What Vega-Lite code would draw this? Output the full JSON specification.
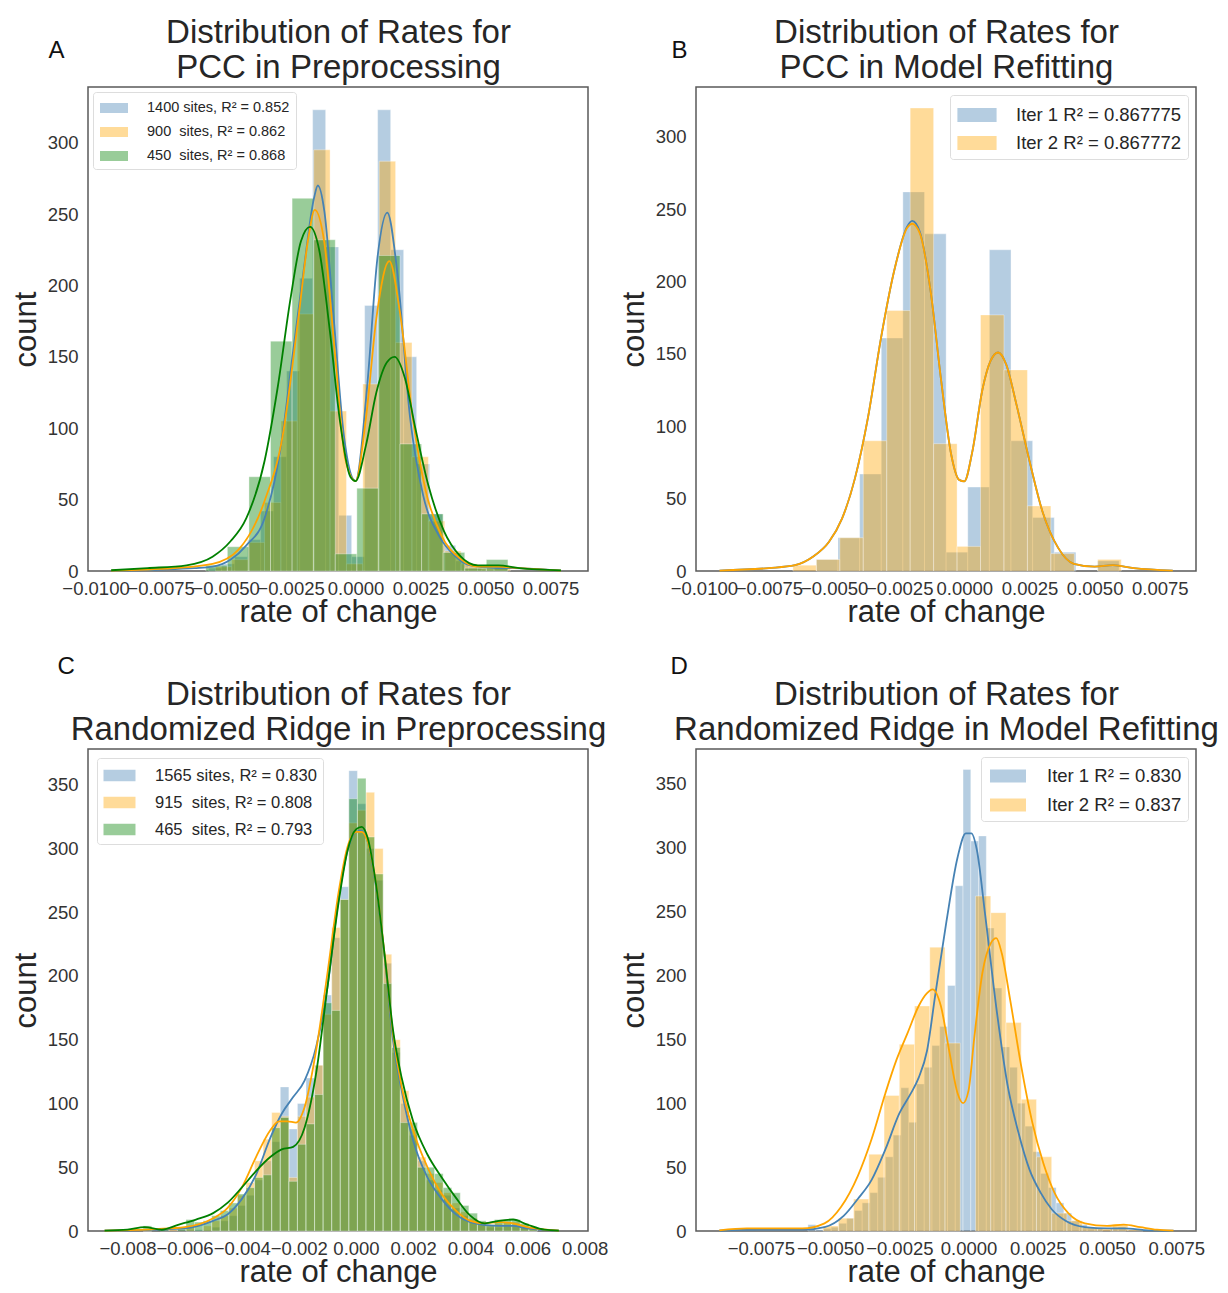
{
 "$schema": "https://vega.github.io/schema/vega-lite/v6.json",
 "background": "white",
 "padding": {"left": 9, "top": 15, "right": 2, "bottom": 2},
 "config": {
  "font": "Liberation Sans",
  "view": {"stroke": "#5a5a5a", "strokeWidth": 1.5},
  "axis": {"grid": false, "ticks": false, "domain": false, "labelFont": "Liberation Sans", "labelFontSize": 18.5, "labelColor": "#333333", "titleFont": "Liberation Sans", "titleFontSize": 31, "titleFontWeight": "normal", "titleColor": "#262626", "labelPadding": 8, "labelOverlap": false, "labelFlush": false, "labelBound": false},
  "legend": {"title": null, "labelFont": "Liberation Sans", "labelColor": "#262626", "labelLimit": 0, "symbolType": "M-1.4,-0.5H1.4V0.5H-1.4Z", "symbolStrokeWidth": 0, "symbolOpacity": 0.4, "strokeColor": "#dddddd", "fillColor": "white", "cornerRadius": 3, "padding": 6}
 },
 "datasets": {
  "hA": [
   {"series": "1400 sites, R² = 0.852", "x0": -0.00565, "x1": -0.00515, "count": 2},
   {"series": "1400 sites, R² = 0.852", "x0": -0.00515, "x1": -0.00465, "count": 5},
   {"series": "1400 sites, R² = 0.852", "x0": -0.00465, "x1": -0.00415, "count": 10},
   {"series": "1400 sites, R² = 0.852", "x0": -0.00415, "x1": -0.00365, "count": 22},
   {"series": "1400 sites, R² = 0.852", "x0": -0.00365, "x1": -0.00315, "count": 42},
   {"series": "1400 sites, R² = 0.852", "x0": -0.00315, "x1": -0.00265, "count": 80},
   {"series": "1400 sites, R² = 0.852", "x0": -0.00265, "x1": -0.00215, "count": 140},
   {"series": "1400 sites, R² = 0.852", "x0": -0.00215, "x1": -0.00165, "count": 205},
   {"series": "1400 sites, R² = 0.852", "x0": -0.00165, "x1": -0.00115, "count": 323},
   {"series": "1400 sites, R² = 0.852", "x0": -0.00115, "x1": -0.00065, "count": 227},
   {"series": "1400 sites, R² = 0.852", "x0": -0.00065, "x1": -0.00015, "count": 39},
   {"series": "1400 sites, R² = 0.852", "x0": -0.00015, "x1": 0.00035, "count": 10},
   {"series": "1400 sites, R² = 0.852", "x0": 0.00035, "x1": 0.00085, "count": 186},
   {"series": "1400 sites, R² = 0.852", "x0": 0.00085, "x1": 0.00135, "count": 323},
   {"series": "1400 sites, R² = 0.852", "x0": 0.00135, "x1": 0.00185, "count": 225},
   {"series": "1400 sites, R² = 0.852", "x0": 0.00185, "x1": 0.00235, "count": 150},
   {"series": "1400 sites, R² = 0.852", "x0": 0.00235, "x1": 0.00285, "count": 75},
   {"series": "1400 sites, R² = 0.852", "x0": 0.00285, "x1": 0.00335, "count": 40},
   {"series": "1400 sites, R² = 0.852", "x0": 0.00335, "x1": 0.00385, "count": 18},
   {"series": "1400 sites, R² = 0.852", "x0": 0.00385, "x1": 0.00435, "count": 7},
   {"series": "1400 sites, R² = 0.852", "x0": 0.00435, "x1": 0.00485, "count": 3},
   {"series": "1400 sites, R² = 0.852", "x0": 0.00485, "x1": 0.00535, "count": 1},
   {"series": "1400 sites, R² = 0.852", "x0": 0.00535, "x1": 0.00585, "count": 3},
   {"series": "900\u00a0 sites, R² = 0.862", "x0": -0.00539, "x1": -0.00476, "count": 3},
   {"series": "900\u00a0 sites, R² = 0.862", "x0": -0.00476, "x1": -0.00413, "count": 8},
   {"series": "900\u00a0 sites, R² = 0.862", "x0": -0.00413, "x1": -0.0035, "count": 20},
   {"series": "900\u00a0 sites, R² = 0.862", "x0": -0.0035, "x1": -0.00287, "count": 48},
   {"series": "900\u00a0 sites, R² = 0.862", "x0": -0.00287, "x1": -0.00224, "count": 105},
   {"series": "900\u00a0 sites, R² = 0.862", "x0": -0.00224, "x1": -0.00161, "count": 180},
   {"series": "900\u00a0 sites, R² = 0.862", "x0": -0.00161, "x1": -0.00098, "count": 295},
   {"series": "900\u00a0 sites, R² = 0.862", "x0": -0.00098, "x1": -0.00035, "count": 112},
   {"series": "900\u00a0 sites, R² = 0.862", "x0": -0.00035, "x1": 0.00028, "count": 5},
   {"series": "900\u00a0 sites, R² = 0.862", "x0": 0.00028, "x1": 0.00091, "count": 131},
   {"series": "900\u00a0 sites, R² = 0.862", "x0": 0.00091, "x1": 0.00154, "count": 287},
   {"series": "900\u00a0 sites, R² = 0.862", "x0": 0.00154, "x1": 0.00217, "count": 160},
   {"series": "900\u00a0 sites, R² = 0.862", "x0": 0.00217, "x1": 0.0028, "count": 80},
   {"series": "900\u00a0 sites, R² = 0.862", "x0": 0.0028, "x1": 0.00343, "count": 35},
   {"series": "900\u00a0 sites, R² = 0.862", "x0": 0.00343, "x1": 0.00406, "count": 14},
   {"series": "900\u00a0 sites, R² = 0.862", "x0": 0.00406, "x1": 0.00469, "count": 5},
   {"series": "900\u00a0 sites, R² = 0.862", "x0": 0.00469, "x1": 0.00532, "count": 2},
   {"series": "900\u00a0 sites, R² = 0.862", "x0": 0.00532, "x1": 0.00595, "count": 3},
   {"series": "450\u00a0 sites, R² = 0.868", "x0": -0.00576, "x1": -0.00493, "count": 4},
   {"series": "450\u00a0 sites, R² = 0.868", "x0": -0.00493, "x1": -0.0041, "count": 17},
   {"series": "450\u00a0 sites, R² = 0.868", "x0": -0.0041, "x1": -0.00327, "count": 66},
   {"series": "450\u00a0 sites, R² = 0.868", "x0": -0.00327, "x1": -0.00244, "count": 161},
   {"series": "450\u00a0 sites, R² = 0.868", "x0": -0.00244, "x1": -0.00161, "count": 261},
   {"series": "450\u00a0 sites, R² = 0.868", "x0": -0.00161, "x1": -0.00078, "count": 232},
   {"series": "450\u00a0 sites, R² = 0.868", "x0": -0.00078, "x1": 0.00005, "count": 12},
   {"series": "450\u00a0 sites, R² = 0.868", "x0": 0.00005, "x1": 0.00088, "count": 58},
   {"series": "450\u00a0 sites, R² = 0.868", "x0": 0.00088, "x1": 0.00171, "count": 221},
   {"series": "450\u00a0 sites, R² = 0.868", "x0": 0.00171, "x1": 0.00254, "count": 89},
   {"series": "450\u00a0 sites, R² = 0.868", "x0": 0.00254, "x1": 0.00337, "count": 40},
   {"series": "450\u00a0 sites, R² = 0.868", "x0": 0.00337, "x1": 0.0042, "count": 13},
   {"series": "450\u00a0 sites, R² = 0.868", "x0": 0.0042, "x1": 0.00503, "count": 2},
   {"series": "450\u00a0 sites, R² = 0.868", "x0": 0.00503, "x1": 0.00586, "count": 8}
  ],
  "kA": [
   {"series": "1400 sites, R² = 0.852", "x": -0.0094, "count": 0.2},
   {"series": "1400 sites, R² = 0.852", "x": -0.0075, "count": 1},
   {"series": "1400 sites, R² = 0.852", "x": -0.0062, "count": 2},
   {"series": "1400 sites, R² = 0.852", "x": -0.0055, "count": 3},
   {"series": "1400 sites, R² = 0.852", "x": -0.0048, "count": 8},
   {"series": "1400 sites, R² = 0.852", "x": -0.0042, "count": 18},
   {"series": "1400 sites, R² = 0.852", "x": -0.0035, "count": 37},
   {"series": "1400 sites, R² = 0.852", "x": -0.0029, "count": 84},
   {"series": "1400 sites, R² = 0.852", "x": -0.0024, "count": 154},
   {"series": "1400 sites, R² = 0.852", "x": -0.002, "count": 210},
   {"series": "1400 sites, R² = 0.852", "x": -0.0016, "count": 261},
   {"series": "1400 sites, R² = 0.852", "x": -0.00145, "count": 270},
   {"series": "1400 sites, R² = 0.852", "x": -0.0012, "count": 252},
   {"series": "1400 sites, R² = 0.852", "x": -0.00084, "count": 177},
   {"series": "1400 sites, R² = 0.852", "x": -0.00045, "count": 95},
   {"series": "1400 sites, R² = 0.852", "x": 0, "count": 63},
   {"series": "1400 sites, R² = 0.852", "x": 0.00045, "count": 130},
   {"series": "1400 sites, R² = 0.852", "x": 0.00084, "count": 219},
   {"series": "1400 sites, R² = 0.852", "x": 0.00122, "count": 251},
   {"series": "1400 sites, R² = 0.852", "x": 0.0016, "count": 210},
   {"series": "1400 sites, R² = 0.852", "x": 0.0021, "count": 107},
   {"series": "1400 sites, R² = 0.852", "x": 0.0026, "count": 53},
   {"series": "1400 sites, R² = 0.852", "x": 0.0032, "count": 25},
   {"series": "1400 sites, R² = 0.852", "x": 0.0038, "count": 11},
   {"series": "1400 sites, R² = 0.852", "x": 0.0044, "count": 4},
   {"series": "1400 sites, R² = 0.852", "x": 0.0055, "count": 2},
   {"series": "1400 sites, R² = 0.852", "x": 0.0061, "count": 2},
   {"series": "1400 sites, R² = 0.852", "x": 0.0079, "count": 0.2},
   {"series": "900\u00a0 sites, R² = 0.862", "x": -0.0094, "count": 0.3},
   {"series": "900\u00a0 sites, R² = 0.862", "x": -0.007, "count": 2},
   {"series": "900\u00a0 sites, R² = 0.862", "x": -0.0055, "count": 5},
   {"series": "900\u00a0 sites, R² = 0.862", "x": -0.0045, "count": 15},
   {"series": "900\u00a0 sites, R² = 0.862", "x": -0.0035, "count": 49},
   {"series": "900\u00a0 sites, R² = 0.862", "x": -0.0028, "count": 95},
   {"series": "900\u00a0 sites, R² = 0.862", "x": -0.0022, "count": 177},
   {"series": "900\u00a0 sites, R² = 0.862", "x": -0.0018, "count": 235},
   {"series": "900\u00a0 sites, R² = 0.862", "x": -0.00157, "count": 253},
   {"series": "900\u00a0 sites, R² = 0.862", "x": -0.0012, "count": 230},
   {"series": "900\u00a0 sites, R² = 0.862", "x": -0.0008, "count": 154},
   {"series": "900\u00a0 sites, R² = 0.862", "x": -0.0004, "count": 79},
   {"series": "900\u00a0 sites, R² = 0.862", "x": 0, "count": 63},
   {"series": "900\u00a0 sites, R² = 0.862", "x": 0.0004, "count": 107},
   {"series": "900\u00a0 sites, R² = 0.862", "x": 0.0008, "count": 177},
   {"series": "900\u00a0 sites, R² = 0.862", "x": 0.0013, "count": 217},
   {"series": "900\u00a0 sites, R² = 0.862", "x": 0.0017, "count": 182},
   {"series": "900\u00a0 sites, R² = 0.862", "x": 0.0022, "count": 107},
   {"series": "900\u00a0 sites, R² = 0.862", "x": 0.0027, "count": 56},
   {"series": "900\u00a0 sites, R² = 0.862", "x": 0.0033, "count": 25},
   {"series": "900\u00a0 sites, R² = 0.862", "x": 0.004, "count": 9},
   {"series": "900\u00a0 sites, R² = 0.862", "x": 0.0047, "count": 3},
   {"series": "900\u00a0 sites, R² = 0.862", "x": 0.0055, "count": 3},
   {"series": "900\u00a0 sites, R² = 0.862", "x": 0.0063, "count": 2},
   {"series": "900\u00a0 sites, R² = 0.862", "x": 0.0079, "count": 0.3},
   {"series": "450\u00a0 sites, R² = 0.868", "x": -0.0094, "count": 0.5},
   {"series": "450\u00a0 sites, R² = 0.868", "x": -0.008, "count": 2},
   {"series": "450\u00a0 sites, R² = 0.868", "x": -0.0065, "count": 4},
   {"series": "450\u00a0 sites, R² = 0.868", "x": -0.0055, "count": 10},
   {"series": "450\u00a0 sites, R² = 0.868", "x": -0.0048, "count": 21},
   {"series": "450\u00a0 sites, R² = 0.868", "x": -0.0042, "count": 37},
   {"series": "450\u00a0 sites, R² = 0.868", "x": -0.0035, "count": 77},
   {"series": "450\u00a0 sites, R² = 0.868", "x": -0.003, "count": 128},
   {"series": "450\u00a0 sites, R² = 0.868", "x": -0.0025, "count": 191},
   {"series": "450\u00a0 sites, R² = 0.868", "x": -0.0021, "count": 231},
   {"series": "450\u00a0 sites, R² = 0.868", "x": -0.00175, "count": 241},
   {"series": "450\u00a0 sites, R² = 0.868", "x": -0.0014, "count": 225},
   {"series": "450\u00a0 sites, R² = 0.868", "x": -0.001, "count": 170},
   {"series": "450\u00a0 sites, R² = 0.868", "x": -0.0006, "count": 105},
   {"series": "450\u00a0 sites, R² = 0.868", "x": -0.0002, "count": 66},
   {"series": "450\u00a0 sites, R² = 0.868", "x": 0, "count": 63},
   {"series": "450\u00a0 sites, R² = 0.868", "x": 0.0004, "count": 88},
   {"series": "450\u00a0 sites, R² = 0.868", "x": 0.0008, "count": 125},
   {"series": "450\u00a0 sites, R² = 0.868", "x": 0.0012, "count": 146},
   {"series": "450\u00a0 sites, R² = 0.868", "x": 0.0015, "count": 150},
   {"series": "450\u00a0 sites, R² = 0.868", "x": 0.0019, "count": 135},
   {"series": "450\u00a0 sites, R² = 0.868", "x": 0.0023, "count": 100},
   {"series": "450\u00a0 sites, R² = 0.868", "x": 0.0028, "count": 60},
   {"series": "450\u00a0 sites, R² = 0.868", "x": 0.0034, "count": 28},
   {"series": "450\u00a0 sites, R² = 0.868", "x": 0.004, "count": 11},
   {"series": "450\u00a0 sites, R² = 0.868", "x": 0.0047, "count": 4},
   {"series": "450\u00a0 sites, R² = 0.868", "x": 0.0055, "count": 4},
   {"series": "450\u00a0 sites, R² = 0.868", "x": 0.0063, "count": 2},
   {"series": "450\u00a0 sites, R² = 0.868", "x": 0.0079, "count": 0.5}
  ],
  "hB": [
   {"series": "Iter 1 R² = 0.867775", "x0": -0.00568, "x1": -0.00485, "count": 8},
   {"series": "Iter 1 R² = 0.867775", "x0": -0.00485, "x1": -0.00402, "count": 23},
   {"series": "Iter 1 R² = 0.867775", "x0": -0.00402, "x1": -0.00319, "count": 67},
   {"series": "Iter 1 R² = 0.867775", "x0": -0.00319, "x1": -0.00236, "count": 161},
   {"series": "Iter 1 R² = 0.867775", "x0": -0.00236, "x1": -0.00153, "count": 262},
   {"series": "Iter 1 R² = 0.867775", "x0": -0.00153, "x1": -0.0007, "count": 233},
   {"series": "Iter 1 R² = 0.867775", "x0": -0.0007, "x1": 0.00013, "count": 13},
   {"series": "Iter 1 R² = 0.867775", "x0": 0.00013, "x1": 0.00096, "count": 58},
   {"series": "Iter 1 R² = 0.867775", "x0": 0.00096, "x1": 0.00179, "count": 222},
   {"series": "Iter 1 R² = 0.867775", "x0": 0.00179, "x1": 0.00262, "count": 90},
   {"series": "Iter 1 R² = 0.867775", "x0": 0.00262, "x1": 0.00345, "count": 37},
   {"series": "Iter 1 R² = 0.867775", "x0": 0.00345, "x1": 0.00428, "count": 13},
   {"series": "Iter 1 R² = 0.867775", "x0": 0.00511, "x1": 0.00594, "count": 7},
   {"series": "Iter 2 R² = 0.867772", "x0": -0.00658, "x1": -0.00568, "count": 4},
   {"series": "Iter 2 R² = 0.867772", "x0": -0.00568, "x1": -0.00478, "count": 8},
   {"series": "Iter 2 R² = 0.867772", "x0": -0.00478, "x1": -0.00388, "count": 23},
   {"series": "Iter 2 R² = 0.867772", "x0": -0.00388, "x1": -0.00298, "count": 90},
   {"series": "Iter 2 R² = 0.867772", "x0": -0.00298, "x1": -0.00208, "count": 180},
   {"series": "Iter 2 R² = 0.867772", "x0": -0.00208, "x1": -0.00118, "count": 320},
   {"series": "Iter 2 R² = 0.867772", "x0": -0.00118, "x1": -0.00028, "count": 88},
   {"series": "Iter 2 R² = 0.867772", "x0": -0.00028, "x1": 0.00062, "count": 17},
   {"series": "Iter 2 R² = 0.867772", "x0": 0.00062, "x1": 0.00152, "count": 177},
   {"series": "Iter 2 R² = 0.867772", "x0": 0.00152, "x1": 0.00242, "count": 139},
   {"series": "Iter 2 R² = 0.867772", "x0": 0.00242, "x1": 0.00332, "count": 45},
   {"series": "Iter 2 R² = 0.867772", "x0": 0.00332, "x1": 0.00422, "count": 12},
   {"series": "Iter 2 R² = 0.867772", "x0": 0.00512, "x1": 0.00602, "count": 8}
  ],
  "kB": [
   {"series": "Iter 1 R² = 0.867775", "x": -0.0094, "count": 0.3},
   {"series": "Iter 1 R² = 0.867775", "x": -0.0075, "count": 2},
   {"series": "Iter 1 R² = 0.867775", "x": -0.0065, "count": 4},
   {"series": "Iter 1 R² = 0.867775", "x": -0.0058, "count": 10},
   {"series": "Iter 1 R² = 0.867775", "x": -0.0052, "count": 20},
   {"series": "Iter 1 R² = 0.867775", "x": -0.0047, "count": 36},
   {"series": "Iter 1 R² = 0.867775", "x": -0.0042, "count": 64},
   {"series": "Iter 1 R² = 0.867775", "x": -0.0037, "count": 106},
   {"series": "Iter 1 R² = 0.867775", "x": -0.0032, "count": 161},
   {"series": "Iter 1 R² = 0.867775", "x": -0.0027, "count": 207},
   {"series": "Iter 1 R² = 0.867775", "x": -0.0022, "count": 238},
   {"series": "Iter 1 R² = 0.867775", "x": -0.002, "count": 242},
   {"series": "Iter 1 R² = 0.867775", "x": -0.0017, "count": 234},
   {"series": "Iter 1 R² = 0.867775", "x": -0.0013, "count": 194},
   {"series": "Iter 1 R² = 0.867775", "x": -0.0009, "count": 133},
   {"series": "Iter 1 R² = 0.867775", "x": -0.0005, "count": 80},
   {"series": "Iter 1 R² = 0.867775", "x": -0.0002, "count": 63},
   {"series": "Iter 1 R² = 0.867775", "x": 0, "count": 62},
   {"series": "Iter 1 R² = 0.867775", "x": 0.0003, "count": 82},
   {"series": "Iter 1 R² = 0.867775", "x": 0.0007, "count": 126},
   {"series": "Iter 1 R² = 0.867775", "x": 0.001, "count": 145},
   {"series": "Iter 1 R² = 0.867775", "x": 0.0013, "count": 151},
   {"series": "Iter 1 R² = 0.867775", "x": 0.0016, "count": 143},
   {"series": "Iter 1 R² = 0.867775", "x": 0.002, "count": 115},
   {"series": "Iter 1 R² = 0.867775", "x": 0.0025, "count": 76},
   {"series": "Iter 1 R² = 0.867775", "x": 0.003, "count": 41},
   {"series": "Iter 1 R² = 0.867775", "x": 0.0036, "count": 16},
   {"series": "Iter 1 R² = 0.867775", "x": 0.0042, "count": 5},
   {"series": "Iter 1 R² = 0.867775", "x": 0.005, "count": 3},
   {"series": "Iter 1 R² = 0.867775", "x": 0.0057, "count": 4},
   {"series": "Iter 1 R² = 0.867775", "x": 0.0065, "count": 2},
   {"series": "Iter 1 R² = 0.867775", "x": 0.008, "count": 0.3},
   {"series": "Iter 2 R² = 0.867772", "x": -0.0094, "count": 0.3},
   {"series": "Iter 2 R² = 0.867772", "x": -0.0075, "count": 2},
   {"series": "Iter 2 R² = 0.867772", "x": -0.0065, "count": 4},
   {"series": "Iter 2 R² = 0.867772", "x": -0.0058, "count": 10},
   {"series": "Iter 2 R² = 0.867772", "x": -0.0052, "count": 20},
   {"series": "Iter 2 R² = 0.867772", "x": -0.0047, "count": 36},
   {"series": "Iter 2 R² = 0.867772", "x": -0.0042, "count": 64},
   {"series": "Iter 2 R² = 0.867772", "x": -0.0037, "count": 106},
   {"series": "Iter 2 R² = 0.867772", "x": -0.0032, "count": 161},
   {"series": "Iter 2 R² = 0.867772", "x": -0.0027, "count": 207},
   {"series": "Iter 2 R² = 0.867772", "x": -0.0022, "count": 237},
   {"series": "Iter 2 R² = 0.867772", "x": -0.002, "count": 240},
   {"series": "Iter 2 R² = 0.867772", "x": -0.0017, "count": 233},
   {"series": "Iter 2 R² = 0.867772", "x": -0.0013, "count": 194},
   {"series": "Iter 2 R² = 0.867772", "x": -0.0009, "count": 133},
   {"series": "Iter 2 R² = 0.867772", "x": -0.0005, "count": 80},
   {"series": "Iter 2 R² = 0.867772", "x": -0.0002, "count": 63},
   {"series": "Iter 2 R² = 0.867772", "x": 0, "count": 62},
   {"series": "Iter 2 R² = 0.867772", "x": 0.0003, "count": 82},
   {"series": "Iter 2 R² = 0.867772", "x": 0.0007, "count": 126},
   {"series": "Iter 2 R² = 0.867772", "x": 0.001, "count": 145},
   {"series": "Iter 2 R² = 0.867772", "x": 0.0013, "count": 151},
   {"series": "Iter 2 R² = 0.867772", "x": 0.0016, "count": 143},
   {"series": "Iter 2 R² = 0.867772", "x": 0.002, "count": 115},
   {"series": "Iter 2 R² = 0.867772", "x": 0.0025, "count": 76},
   {"series": "Iter 2 R² = 0.867772", "x": 0.003, "count": 41},
   {"series": "Iter 2 R² = 0.867772", "x": 0.0036, "count": 16},
   {"series": "Iter 2 R² = 0.867772", "x": 0.0042, "count": 5},
   {"series": "Iter 2 R² = 0.867772", "x": 0.005, "count": 3},
   {"series": "Iter 2 R² = 0.867772", "x": 0.0057, "count": 4},
   {"series": "Iter 2 R² = 0.867772", "x": 0.0065, "count": 2},
   {"series": "Iter 2 R² = 0.867772", "x": 0.008, "count": 0.3}
  ],
  "hC": [
   {"series": "1565 sites, R² = 0.830", "x0": -0.00565, "x1": -0.00535, "count": 1},
   {"series": "1565 sites, R² = 0.830", "x0": -0.00505, "x1": -0.00475, "count": 3},
   {"series": "1565 sites, R² = 0.830", "x0": -0.00475, "x1": -0.00445, "count": 8},
   {"series": "1565 sites, R² = 0.830", "x0": -0.00445, "x1": -0.00415, "count": 12},
   {"series": "1565 sites, R² = 0.830", "x0": -0.00415, "x1": -0.00385, "count": 20},
   {"series": "1565 sites, R² = 0.830", "x0": -0.00385, "x1": -0.00355, "count": 28},
   {"series": "1565 sites, R² = 0.830", "x0": -0.00355, "x1": -0.00325, "count": 40},
   {"series": "1565 sites, R² = 0.830", "x0": -0.00325, "x1": -0.00295, "count": 55},
   {"series": "1565 sites, R² = 0.830", "x0": -0.00295, "x1": -0.00265, "count": 70},
   {"series": "1565 sites, R² = 0.830", "x0": -0.00265, "x1": -0.00235, "count": 113},
   {"series": "1565 sites, R² = 0.830", "x0": -0.00235, "x1": -0.00205, "count": 80},
   {"series": "1565 sites, R² = 0.830", "x0": -0.00205, "x1": -0.00175, "count": 100},
   {"series": "1565 sites, R² = 0.830", "x0": -0.00175, "x1": -0.00145, "count": 120},
   {"series": "1565 sites, R² = 0.830", "x0": -0.00145, "x1": -0.00115, "count": 130},
   {"series": "1565 sites, R² = 0.830", "x0": -0.00115, "x1": -0.00085, "count": 185},
   {"series": "1565 sites, R² = 0.830", "x0": -0.00085, "x1": -0.00055, "count": 230},
   {"series": "1565 sites, R² = 0.830", "x0": -0.00055, "x1": -0.00025, "count": 270},
   {"series": "1565 sites, R² = 0.830", "x0": -0.00025, "x1": 0.00005, "count": 361},
   {"series": "1565 sites, R² = 0.830", "x0": 0.00005, "x1": 0.00035, "count": 335},
   {"series": "1565 sites, R² = 0.830", "x0": 0.00035, "x1": 0.00065, "count": 300},
   {"series": "1565 sites, R² = 0.830", "x0": 0.00065, "x1": 0.00095, "count": 275},
   {"series": "1565 sites, R² = 0.830", "x0": 0.00095, "x1": 0.00125, "count": 210},
   {"series": "1565 sites, R² = 0.830", "x0": 0.00125, "x1": 0.00155, "count": 140},
   {"series": "1565 sites, R² = 0.830", "x0": 0.00155, "x1": 0.00185, "count": 100},
   {"series": "1565 sites, R² = 0.830", "x0": 0.00185, "x1": 0.00215, "count": 75},
   {"series": "1565 sites, R² = 0.830", "x0": 0.00215, "x1": 0.00245, "count": 55},
   {"series": "1565 sites, R² = 0.830", "x0": 0.00245, "x1": 0.00275, "count": 40},
   {"series": "1565 sites, R² = 0.830", "x0": 0.00275, "x1": 0.00305, "count": 32},
   {"series": "1565 sites, R² = 0.830", "x0": 0.00305, "x1": 0.00335, "count": 28},
   {"series": "1565 sites, R² = 0.830", "x0": 0.00335, "x1": 0.00365, "count": 18},
   {"series": "1565 sites, R² = 0.830", "x0": 0.00365, "x1": 0.00395, "count": 12},
   {"series": "1565 sites, R² = 0.830", "x0": 0.00395, "x1": 0.00425, "count": 8},
   {"series": "1565 sites, R² = 0.830", "x0": 0.00425, "x1": 0.00455, "count": 5},
   {"series": "1565 sites, R² = 0.830", "x0": 0.00455, "x1": 0.00485, "count": 3},
   {"series": "1565 sites, R² = 0.830", "x0": 0.00485, "x1": 0.00515, "count": 3},
   {"series": "1565 sites, R² = 0.830", "x0": 0.00515, "x1": 0.00545, "count": 4},
   {"series": "1565 sites, R² = 0.830", "x0": 0.00545, "x1": 0.00575, "count": 4},
   {"series": "1565 sites, R² = 0.830", "x0": 0.00575, "x1": 0.00605, "count": 3},
   {"series": "1565 sites, R² = 0.830", "x0": 0.00605, "x1": 0.00635, "count": 1},
   {"series": "915\u00a0 sites, R² = 0.808", "x0": -0.00745, "x1": -0.00715, "count": 1},
   {"series": "915\u00a0 sites, R² = 0.808", "x0": -0.00655, "x1": -0.00625, "count": 1},
   {"series": "915\u00a0 sites, R² = 0.808", "x0": -0.00595, "x1": -0.00565, "count": 3},
   {"series": "915\u00a0 sites, R² = 0.808", "x0": -0.00535, "x1": -0.00505, "count": 4},
   {"series": "915\u00a0 sites, R² = 0.808", "x0": -0.00505, "x1": -0.00475, "count": 8},
   {"series": "915\u00a0 sites, R² = 0.808", "x0": -0.00475, "x1": -0.00445, "count": 12},
   {"series": "915\u00a0 sites, R² = 0.808", "x0": -0.00445, "x1": -0.00415, "count": 18},
   {"series": "915\u00a0 sites, R² = 0.808", "x0": -0.00415, "x1": -0.00385, "count": 28},
   {"series": "915\u00a0 sites, R² = 0.808", "x0": -0.00385, "x1": -0.00355, "count": 38},
   {"series": "915\u00a0 sites, R² = 0.808", "x0": -0.00355, "x1": -0.00325, "count": 55},
   {"series": "915\u00a0 sites, R² = 0.808", "x0": -0.00325, "x1": -0.00295, "count": 72},
   {"series": "915\u00a0 sites, R² = 0.808", "x0": -0.00295, "x1": -0.00265, "count": 93},
   {"series": "915\u00a0 sites, R² = 0.808", "x0": -0.00265, "x1": -0.00235, "count": 90},
   {"series": "915\u00a0 sites, R² = 0.808", "x0": -0.00235, "x1": -0.00205, "count": 42},
   {"series": "915\u00a0 sites, R² = 0.808", "x0": -0.00205, "x1": -0.00175, "count": 90},
   {"series": "915\u00a0 sites, R² = 0.808", "x0": -0.00175, "x1": -0.00145, "count": 105},
   {"series": "915\u00a0 sites, R² = 0.808", "x0": -0.00145, "x1": -0.00115, "count": 130},
   {"series": "915\u00a0 sites, R² = 0.808", "x0": -0.00115, "x1": -0.00085, "count": 170},
   {"series": "915\u00a0 sites, R² = 0.808", "x0": -0.00085, "x1": -0.00055, "count": 238},
   {"series": "915\u00a0 sites, R² = 0.808", "x0": -0.00055, "x1": -0.00025, "count": 260},
   {"series": "915\u00a0 sites, R² = 0.808", "x0": -0.00025, "x1": 0.00005, "count": 320},
   {"series": "915\u00a0 sites, R² = 0.808", "x0": 0.00005, "x1": 0.00035, "count": 330},
   {"series": "915\u00a0 sites, R² = 0.808", "x0": 0.00035, "x1": 0.00065, "count": 344},
   {"series": "915\u00a0 sites, R² = 0.808", "x0": 0.00065, "x1": 0.00095, "count": 300},
   {"series": "915\u00a0 sites, R² = 0.808", "x0": 0.00095, "x1": 0.00125, "count": 217},
   {"series": "915\u00a0 sites, R² = 0.808", "x0": 0.00125, "x1": 0.00155, "count": 150},
   {"series": "915\u00a0 sites, R² = 0.808", "x0": 0.00155, "x1": 0.00185, "count": 110},
   {"series": "915\u00a0 sites, R² = 0.808", "x0": 0.00185, "x1": 0.00215, "count": 80},
   {"series": "915\u00a0 sites, R² = 0.808", "x0": 0.00215, "x1": 0.00245, "count": 58},
   {"series": "915\u00a0 sites, R² = 0.808", "x0": 0.00245, "x1": 0.00275, "count": 45},
   {"series": "915\u00a0 sites, R² = 0.808", "x0": 0.00275, "x1": 0.00305, "count": 38},
   {"series": "915\u00a0 sites, R² = 0.808", "x0": 0.00305, "x1": 0.00335, "count": 30},
   {"series": "915\u00a0 sites, R² = 0.808", "x0": 0.00335, "x1": 0.00365, "count": 22},
   {"series": "915\u00a0 sites, R² = 0.808", "x0": 0.00365, "x1": 0.00395, "count": 15},
   {"series": "915\u00a0 sites, R² = 0.808", "x0": 0.00395, "x1": 0.00425, "count": 10},
   {"series": "915\u00a0 sites, R² = 0.808", "x0": 0.00425, "x1": 0.00455, "count": 6},
   {"series": "915\u00a0 sites, R² = 0.808", "x0": 0.00455, "x1": 0.00485, "count": 5},
   {"series": "915\u00a0 sites, R² = 0.808", "x0": 0.00485, "x1": 0.00515, "count": 6},
   {"series": "915\u00a0 sites, R² = 0.808", "x0": 0.00515, "x1": 0.00545, "count": 7},
   {"series": "915\u00a0 sites, R² = 0.808", "x0": 0.00545, "x1": 0.00575, "count": 7},
   {"series": "915\u00a0 sites, R² = 0.808", "x0": 0.00575, "x1": 0.00605, "count": 4},
   {"series": "915\u00a0 sites, R² = 0.808", "x0": 0.00605, "x1": 0.00635, "count": 2},
   {"series": "465\u00a0 sites, R² = 0.793", "x0": -0.00745, "x1": -0.00715, "count": 4},
   {"series": "465\u00a0 sites, R² = 0.793", "x0": -0.00685, "x1": -0.00655, "count": 1},
   {"series": "465\u00a0 sites, R² = 0.793", "x0": -0.00625, "x1": -0.00595, "count": 3},
   {"series": "465\u00a0 sites, R² = 0.793", "x0": -0.00595, "x1": -0.00565, "count": 9},
   {"series": "465\u00a0 sites, R² = 0.793", "x0": -0.00565, "x1": -0.00535, "count": 7},
   {"series": "465\u00a0 sites, R² = 0.793", "x0": -0.00535, "x1": -0.00505, "count": 8},
   {"series": "465\u00a0 sites, R² = 0.793", "x0": -0.00505, "x1": -0.00475, "count": 12},
   {"series": "465\u00a0 sites, R² = 0.793", "x0": -0.00475, "x1": -0.00445, "count": 16},
   {"series": "465\u00a0 sites, R² = 0.793", "x0": -0.00445, "x1": -0.00415, "count": 22},
   {"series": "465\u00a0 sites, R² = 0.793", "x0": -0.00415, "x1": -0.00385, "count": 29},
   {"series": "465\u00a0 sites, R² = 0.793", "x0": -0.00385, "x1": -0.00355, "count": 34},
   {"series": "465\u00a0 sites, R² = 0.793", "x0": -0.00355, "x1": -0.00325, "count": 42},
   {"series": "465\u00a0 sites, R² = 0.793", "x0": -0.00325, "x1": -0.00295, "count": 44},
   {"series": "465\u00a0 sites, R² = 0.793", "x0": -0.00295, "x1": -0.00265, "count": 81},
   {"series": "465\u00a0 sites, R² = 0.793", "x0": -0.00265, "x1": -0.00235, "count": 89},
   {"series": "465\u00a0 sites, R² = 0.793", "x0": -0.00235, "x1": -0.00205, "count": 39},
   {"series": "465\u00a0 sites, R² = 0.793", "x0": -0.00205, "x1": -0.00175, "count": 68},
   {"series": "465\u00a0 sites, R² = 0.793", "x0": -0.00175, "x1": -0.00145, "count": 84},
   {"series": "465\u00a0 sites, R² = 0.793", "x0": -0.00145, "x1": -0.00115, "count": 107},
   {"series": "465\u00a0 sites, R² = 0.793", "x0": -0.00115, "x1": -0.00085, "count": 179},
   {"series": "465\u00a0 sites, R² = 0.793", "x0": -0.00085, "x1": -0.00055, "count": 173},
   {"series": "465\u00a0 sites, R² = 0.793", "x0": -0.00055, "x1": -0.00025, "count": 260},
   {"series": "465\u00a0 sites, R² = 0.793", "x0": -0.00025, "x1": 0.00005, "count": 339},
   {"series": "465\u00a0 sites, R² = 0.793", "x0": 0.00005, "x1": 0.00035, "count": 355},
   {"series": "465\u00a0 sites, R² = 0.793", "x0": 0.00035, "x1": 0.00065, "count": 309},
   {"series": "465\u00a0 sites, R² = 0.793", "x0": 0.00065, "x1": 0.00095, "count": 280},
   {"series": "465\u00a0 sites, R² = 0.793", "x0": 0.00095, "x1": 0.00125, "count": 194},
   {"series": "465\u00a0 sites, R² = 0.793", "x0": 0.00125, "x1": 0.00155, "count": 144},
   {"series": "465\u00a0 sites, R² = 0.793", "x0": 0.00155, "x1": 0.00185, "count": 85},
   {"series": "465\u00a0 sites, R² = 0.793", "x0": 0.00185, "x1": 0.00215, "count": 85},
   {"series": "465\u00a0 sites, R² = 0.793", "x0": 0.00215, "x1": 0.00245, "count": 50},
   {"series": "465\u00a0 sites, R² = 0.793", "x0": 0.00245, "x1": 0.00275, "count": 50},
   {"series": "465\u00a0 sites, R² = 0.793", "x0": 0.00275, "x1": 0.00305, "count": 45},
   {"series": "465\u00a0 sites, R² = 0.793", "x0": 0.00305, "x1": 0.00335, "count": 34},
   {"series": "465\u00a0 sites, R² = 0.793", "x0": 0.00335, "x1": 0.00365, "count": 30},
   {"series": "465\u00a0 sites, R² = 0.793", "x0": 0.00365, "x1": 0.00395, "count": 20},
   {"series": "465\u00a0 sites, R² = 0.793", "x0": 0.00395, "x1": 0.00425, "count": 14},
   {"series": "465\u00a0 sites, R² = 0.793", "x0": 0.00425, "x1": 0.00455, "count": 8},
   {"series": "465\u00a0 sites, R² = 0.793", "x0": 0.00455, "x1": 0.00485, "count": 5},
   {"series": "465\u00a0 sites, R² = 0.793", "x0": 0.00485, "x1": 0.00515, "count": 9},
   {"series": "465\u00a0 sites, R² = 0.793", "x0": 0.00515, "x1": 0.00545, "count": 9},
   {"series": "465\u00a0 sites, R² = 0.793", "x0": 0.00545, "x1": 0.00575, "count": 9},
   {"series": "465\u00a0 sites, R² = 0.793", "x0": 0.00575, "x1": 0.00605, "count": 6},
   {"series": "465\u00a0 sites, R² = 0.793", "x0": 0.00605, "x1": 0.00635, "count": 2}
  ],
  "kC": [
   {"series": "1565 sites, R² = 0.830", "x": -0.0088, "count": 0.3},
   {"series": "1565 sites, R² = 0.830", "x": -0.007, "count": 1},
   {"series": "1565 sites, R² = 0.830", "x": -0.006, "count": 2},
   {"series": "1565 sites, R² = 0.830", "x": -0.005, "count": 8},
   {"series": "1565 sites, R² = 0.830", "x": -0.0045, "count": 13},
   {"series": "1565 sites, R² = 0.830", "x": -0.004, "count": 25},
   {"series": "1565 sites, R² = 0.830", "x": -0.0035, "count": 44},
   {"series": "1565 sites, R² = 0.830", "x": -0.003, "count": 73},
   {"series": "1565 sites, R² = 0.830", "x": -0.0026, "count": 92},
   {"series": "1565 sites, R² = 0.830", "x": -0.0022, "count": 105},
   {"series": "1565 sites, R² = 0.830", "x": -0.0018, "count": 118},
   {"series": "1565 sites, R² = 0.830", "x": -0.0014, "count": 144},
   {"series": "1565 sites, R² = 0.830", "x": -0.001, "count": 191},
   {"series": "1565 sites, R² = 0.830", "x": -0.0006, "count": 262},
   {"series": "1565 sites, R² = 0.830", "x": -0.0003, "count": 298},
   {"series": "1565 sites, R² = 0.830", "x": 0, "count": 313},
   {"series": "1565 sites, R² = 0.830", "x": 0.0002, "count": 314},
   {"series": "1565 sites, R² = 0.830", "x": 0.0004, "count": 306},
   {"series": "1565 sites, R² = 0.830", "x": 0.0007, "count": 270},
   {"series": "1565 sites, R² = 0.830", "x": 0.001, "count": 215},
   {"series": "1565 sites, R² = 0.830", "x": 0.0013, "count": 149},
   {"series": "1565 sites, R² = 0.830", "x": 0.0016, "count": 110},
   {"series": "1565 sites, R² = 0.830", "x": 0.002, "count": 71},
   {"series": "1565 sites, R² = 0.830", "x": 0.0025, "count": 42},
   {"series": "1565 sites, R² = 0.830", "x": 0.003, "count": 25},
   {"series": "1565 sites, R² = 0.830", "x": 0.0035, "count": 13},
   {"series": "1565 sites, R² = 0.830", "x": 0.004, "count": 7},
   {"series": "1565 sites, R² = 0.830", "x": 0.005, "count": 4},
   {"series": "1565 sites, R² = 0.830", "x": 0.0055, "count": 4},
   {"series": "1565 sites, R² = 0.830", "x": 0.006, "count": 2},
   {"series": "1565 sites, R² = 0.830", "x": 0.0071, "count": 0.3},
   {"series": "915\u00a0 sites, R² = 0.808", "x": -0.0088, "count": 0.3},
   {"series": "915\u00a0 sites, R² = 0.808", "x": -0.007, "count": 1.5},
   {"series": "915\u00a0 sites, R² = 0.808", "x": -0.006, "count": 3},
   {"series": "915\u00a0 sites, R² = 0.808", "x": -0.005, "count": 10},
   {"series": "915\u00a0 sites, R² = 0.808", "x": -0.0045, "count": 18},
   {"series": "915\u00a0 sites, R² = 0.808", "x": -0.004, "count": 34},
   {"series": "915\u00a0 sites, R² = 0.808", "x": -0.0035, "count": 58},
   {"series": "915\u00a0 sites, R² = 0.808", "x": -0.003, "count": 79},
   {"series": "915\u00a0 sites, R² = 0.808", "x": -0.0027, "count": 86},
   {"series": "915\u00a0 sites, R² = 0.808", "x": -0.0024, "count": 86},
   {"series": "915\u00a0 sites, R² = 0.808", "x": -0.0021, "count": 85},
   {"series": "915\u00a0 sites, R² = 0.808", "x": -0.0018, "count": 97},
   {"series": "915\u00a0 sites, R² = 0.808", "x": -0.0014, "count": 141},
   {"series": "915\u00a0 sites, R² = 0.808", "x": -0.001, "count": 202},
   {"series": "915\u00a0 sites, R² = 0.808", "x": -0.0006, "count": 267},
   {"series": "915\u00a0 sites, R² = 0.808", "x": -0.0003, "count": 301},
   {"series": "915\u00a0 sites, R² = 0.808", "x": 0, "count": 313},
   {"series": "915\u00a0 sites, R² = 0.808", "x": 0.0002, "count": 313},
   {"series": "915\u00a0 sites, R² = 0.808", "x": 0.0004, "count": 306},
   {"series": "915\u00a0 sites, R² = 0.808", "x": 0.0007, "count": 272},
   {"series": "915\u00a0 sites, R² = 0.808", "x": 0.001, "count": 217},
   {"series": "915\u00a0 sites, R² = 0.808", "x": 0.0013, "count": 154},
   {"series": "915\u00a0 sites, R² = 0.808", "x": 0.0016, "count": 113},
   {"series": "915\u00a0 sites, R² = 0.808", "x": 0.002, "count": 79},
   {"series": "915\u00a0 sites, R² = 0.808", "x": 0.0025, "count": 50},
   {"series": "915\u00a0 sites, R² = 0.808", "x": 0.003, "count": 29},
   {"series": "915\u00a0 sites, R² = 0.808", "x": 0.0035, "count": 16},
   {"series": "915\u00a0 sites, R² = 0.808", "x": 0.004, "count": 8},
   {"series": "915\u00a0 sites, R² = 0.808", "x": 0.0045, "count": 6},
   {"series": "915\u00a0 sites, R² = 0.808", "x": 0.005, "count": 7},
   {"series": "915\u00a0 sites, R² = 0.808", "x": 0.0055, "count": 6},
   {"series": "915\u00a0 sites, R² = 0.808", "x": 0.006, "count": 3},
   {"series": "915\u00a0 sites, R² = 0.808", "x": 0.0071, "count": 0.3},
   {"series": "465\u00a0 sites, R² = 0.793", "x": -0.0088, "count": 0.3},
   {"series": "465\u00a0 sites, R² = 0.793", "x": -0.008, "count": 1},
   {"series": "465\u00a0 sites, R² = 0.793", "x": -0.0074, "count": 3},
   {"series": "465\u00a0 sites, R² = 0.793", "x": -0.0068, "count": 1},
   {"series": "465\u00a0 sites, R² = 0.793", "x": -0.0062, "count": 5},
   {"series": "465\u00a0 sites, R² = 0.793", "x": -0.0056, "count": 9},
   {"series": "465\u00a0 sites, R² = 0.793", "x": -0.005, "count": 14},
   {"series": "465\u00a0 sites, R² = 0.793", "x": -0.0045, "count": 22},
   {"series": "465\u00a0 sites, R² = 0.793", "x": -0.004, "count": 34},
   {"series": "465\u00a0 sites, R² = 0.793", "x": -0.0035, "count": 47},
   {"series": "465\u00a0 sites, R² = 0.793", "x": -0.003, "count": 58},
   {"series": "465\u00a0 sites, R² = 0.793", "x": -0.0026, "count": 64},
   {"series": "465\u00a0 sites, R² = 0.793", "x": -0.0022, "count": 66},
   {"series": "465\u00a0 sites, R² = 0.793", "x": -0.0018, "count": 81},
   {"series": "465\u00a0 sites, R² = 0.793", "x": -0.0014, "count": 123},
   {"series": "465\u00a0 sites, R² = 0.793", "x": -0.001, "count": 191},
   {"series": "465\u00a0 sites, R² = 0.793", "x": -0.0006, "count": 259},
   {"series": "465\u00a0 sites, R² = 0.793", "x": -0.0003, "count": 298},
   {"series": "465\u00a0 sites, R² = 0.793", "x": 0, "count": 315},
   {"series": "465\u00a0 sites, R² = 0.793", "x": 0.0002, "count": 317},
   {"series": "465\u00a0 sites, R² = 0.793", "x": 0.0004, "count": 309},
   {"series": "465\u00a0 sites, R² = 0.793", "x": 0.0007, "count": 272},
   {"series": "465\u00a0 sites, R² = 0.793", "x": 0.001, "count": 217},
   {"series": "465\u00a0 sites, R² = 0.793", "x": 0.0013, "count": 157},
   {"series": "465\u00a0 sites, R² = 0.793", "x": 0.0016, "count": 120},
   {"series": "465\u00a0 sites, R² = 0.793", "x": 0.002, "count": 86},
   {"series": "465\u00a0 sites, R² = 0.793", "x": 0.0025, "count": 60},
   {"series": "465\u00a0 sites, R² = 0.793", "x": 0.003, "count": 42},
   {"series": "465\u00a0 sites, R² = 0.793", "x": 0.0035, "count": 26},
   {"series": "465\u00a0 sites, R² = 0.793", "x": 0.004, "count": 12},
   {"series": "465\u00a0 sites, R² = 0.793", "x": 0.0045, "count": 6},
   {"series": "465\u00a0 sites, R² = 0.793", "x": 0.005, "count": 8},
   {"series": "465\u00a0 sites, R² = 0.793", "x": 0.0055, "count": 9},
   {"series": "465\u00a0 sites, R² = 0.793", "x": 0.006, "count": 5},
   {"series": "465\u00a0 sites, R² = 0.793", "x": 0.0066, "count": 1},
   {"series": "465\u00a0 sites, R² = 0.793", "x": 0.0071, "count": 0.3}
  ],
  "hD": [
   {"series": "Iter 1 R² = 0.830", "x0": -0.0058, "x1": -0.00552, "count": 5},
   {"series": "Iter 1 R² = 0.830", "x0": -0.00552, "x1": -0.00524, "count": 1},
   {"series": "Iter 1 R² = 0.830", "x0": -0.00524, "x1": -0.00496, "count": 2},
   {"series": "Iter 1 R² = 0.830", "x0": -0.00496, "x1": -0.00468, "count": 3},
   {"series": "Iter 1 R² = 0.830", "x0": -0.00468, "x1": -0.0044, "count": 6},
   {"series": "Iter 1 R² = 0.830", "x0": -0.0044, "x1": -0.00412, "count": 10},
   {"series": "Iter 1 R² = 0.830", "x0": -0.00412, "x1": -0.00384, "count": 16},
   {"series": "Iter 1 R² = 0.830", "x0": -0.00384, "x1": -0.00356, "count": 22},
   {"series": "Iter 1 R² = 0.830", "x0": -0.00356, "x1": -0.00328, "count": 30},
   {"series": "Iter 1 R² = 0.830", "x0": -0.00328, "x1": -0.003, "count": 42},
   {"series": "Iter 1 R² = 0.830", "x0": -0.003, "x1": -0.00272, "count": 58},
   {"series": "Iter 1 R² = 0.830", "x0": -0.00272, "x1": -0.00244, "count": 75},
   {"series": "Iter 1 R² = 0.830", "x0": -0.00244, "x1": -0.00216, "count": 112},
   {"series": "Iter 1 R² = 0.830", "x0": -0.00216, "x1": -0.00188, "count": 85},
   {"series": "Iter 1 R² = 0.830", "x0": -0.00188, "x1": -0.0016, "count": 115},
   {"series": "Iter 1 R² = 0.830", "x0": -0.0016, "x1": -0.00132, "count": 128},
   {"series": "Iter 1 R² = 0.830", "x0": -0.00132, "x1": -0.00104, "count": 145},
   {"series": "Iter 1 R² = 0.830", "x0": -0.00104, "x1": -0.00076, "count": 160},
   {"series": "Iter 1 R² = 0.830", "x0": -0.00076, "x1": -0.00048, "count": 192},
   {"series": "Iter 1 R² = 0.830", "x0": -0.00048, "x1": -0.0002, "count": 270},
   {"series": "Iter 1 R² = 0.830", "x0": -0.0002, "x1": 0.00008, "count": 361},
   {"series": "Iter 1 R² = 0.830", "x0": 0.00008, "x1": 0.00036, "count": 305},
   {"series": "Iter 1 R² = 0.830", "x0": 0.00036, "x1": 0.00064, "count": 309},
   {"series": "Iter 1 R² = 0.830", "x0": 0.00064, "x1": 0.00092, "count": 237},
   {"series": "Iter 1 R² = 0.830", "x0": 0.00092, "x1": 0.0012, "count": 190},
   {"series": "Iter 1 R² = 0.830", "x0": 0.0012, "x1": 0.00148, "count": 144},
   {"series": "Iter 1 R² = 0.830", "x0": 0.00148, "x1": 0.00176, "count": 128},
   {"series": "Iter 1 R² = 0.830", "x0": 0.00176, "x1": 0.00204, "count": 100},
   {"series": "Iter 1 R² = 0.830", "x0": 0.00204, "x1": 0.00232, "count": 82},
   {"series": "Iter 1 R² = 0.830", "x0": 0.00232, "x1": 0.0026, "count": 62},
   {"series": "Iter 1 R² = 0.830", "x0": 0.0026, "x1": 0.00288, "count": 45},
   {"series": "Iter 1 R² = 0.830", "x0": 0.00288, "x1": 0.00316, "count": 34},
   {"series": "Iter 1 R² = 0.830", "x0": 0.00316, "x1": 0.00344, "count": 22},
   {"series": "Iter 1 R² = 0.830", "x0": 0.00344, "x1": 0.00372, "count": 14},
   {"series": "Iter 1 R² = 0.830", "x0": 0.00372, "x1": 0.004, "count": 8},
   {"series": "Iter 1 R² = 0.830", "x0": 0.004, "x1": 0.00428, "count": 5},
   {"series": "Iter 1 R² = 0.830", "x0": 0.00428, "x1": 0.00456, "count": 3},
   {"series": "Iter 1 R² = 0.830", "x0": 0.00456, "x1": 0.00484, "count": 2},
   {"series": "Iter 1 R² = 0.830", "x0": 0.00512, "x1": 0.0054, "count": 2},
   {"series": "Iter 1 R² = 0.830", "x0": 0.0054, "x1": 0.00568, "count": 3},
   {"series": "Iter 2 R² = 0.837", "x0": -0.00525, "x1": -0.0047, "count": 4},
   {"series": "Iter 2 R² = 0.837", "x0": -0.0047, "x1": -0.00415, "count": 10},
   {"series": "Iter 2 R² = 0.837", "x0": -0.00415, "x1": -0.0036, "count": 25},
   {"series": "Iter 2 R² = 0.837", "x0": -0.0036, "x1": -0.00305, "count": 60},
   {"series": "Iter 2 R² = 0.837", "x0": -0.00305, "x1": -0.0025, "count": 106},
   {"series": "Iter 2 R² = 0.837", "x0": -0.0025, "x1": -0.00195, "count": 146},
   {"series": "Iter 2 R² = 0.837", "x0": -0.00195, "x1": -0.0014, "count": 176},
   {"series": "Iter 2 R² = 0.837", "x0": -0.0014, "x1": -0.00085, "count": 222},
   {"series": "Iter 2 R² = 0.837", "x0": -0.00085, "x1": -0.0003, "count": 147},
   {"series": "Iter 2 R² = 0.837", "x0": 0.00025, "x1": 0.0008, "count": 262},
   {"series": "Iter 2 R² = 0.837", "x0": 0.0008, "x1": 0.00135, "count": 249},
   {"series": "Iter 2 R² = 0.837", "x0": 0.00135, "x1": 0.0019, "count": 163},
   {"series": "Iter 2 R² = 0.837", "x0": 0.0019, "x1": 0.00245, "count": 103},
   {"series": "Iter 2 R² = 0.837", "x0": 0.00245, "x1": 0.003, "count": 58},
   {"series": "Iter 2 R² = 0.837", "x0": 0.003, "x1": 0.00355, "count": 14},
   {"series": "Iter 2 R² = 0.837", "x0": 0.00355, "x1": 0.0041, "count": 8},
   {"series": "Iter 2 R² = 0.837", "x0": 0.0041, "x1": 0.00465, "count": 3},
   {"series": "Iter 2 R² = 0.837", "x0": 0.00465, "x1": 0.0052, "count": 2},
   {"series": "Iter 2 R² = 0.837", "x0": 0.0052, "x1": 0.00575, "count": 5},
   {"series": "Iter 2 R² = 0.837", "x0": 0.00575, "x1": 0.0063, "count": 1}
  ],
  "kD": [
   {"series": "Iter 1 R² = 0.830", "x": -0.009, "count": 0.2},
   {"series": "Iter 1 R² = 0.830", "x": -0.0075, "count": 1},
   {"series": "Iter 1 R² = 0.830", "x": -0.006, "count": 1},
   {"series": "Iter 1 R² = 0.830", "x": -0.0052, "count": 3},
   {"series": "Iter 1 R² = 0.830", "x": -0.0045, "count": 12},
   {"series": "Iter 1 R² = 0.830", "x": -0.004, "count": 25},
   {"series": "Iter 1 R² = 0.830", "x": -0.0035, "count": 40},
   {"series": "Iter 1 R² = 0.830", "x": -0.003, "count": 64},
   {"series": "Iter 1 R² = 0.830", "x": -0.0025, "count": 92},
   {"series": "Iter 1 R² = 0.830", "x": -0.0021, "count": 107},
   {"series": "Iter 1 R² = 0.830", "x": -0.0018, "count": 120},
   {"series": "Iter 1 R² = 0.830", "x": -0.0015, "count": 141},
   {"series": "Iter 1 R² = 0.830", "x": -0.0012, "count": 185},
   {"series": "Iter 1 R² = 0.830", "x": -0.0008, "count": 242},
   {"series": "Iter 1 R² = 0.830", "x": -0.0004, "count": 292},
   {"series": "Iter 1 R² = 0.830", "x": -0.0001, "count": 311},
   {"series": "Iter 1 R² = 0.830", "x": 0.0001, "count": 311},
   {"series": "Iter 1 R² = 0.830", "x": 0.0003, "count": 298},
   {"series": "Iter 1 R² = 0.830", "x": 0.0006, "count": 247},
   {"series": "Iter 1 R² = 0.830", "x": 0.001, "count": 175},
   {"series": "Iter 1 R² = 0.830", "x": 0.0014, "count": 115},
   {"series": "Iter 1 R² = 0.830", "x": 0.0018, "count": 77},
   {"series": "Iter 1 R² = 0.830", "x": 0.0022, "count": 48},
   {"series": "Iter 1 R² = 0.830", "x": 0.0026, "count": 30},
   {"series": "Iter 1 R² = 0.830", "x": 0.003, "count": 17},
   {"series": "Iter 1 R² = 0.830", "x": 0.0035, "count": 8},
   {"series": "Iter 1 R² = 0.830", "x": 0.0042, "count": 3},
   {"series": "Iter 1 R² = 0.830", "x": 0.005, "count": 2},
   {"series": "Iter 1 R² = 0.830", "x": 0.0056, "count": 2},
   {"series": "Iter 1 R² = 0.830", "x": 0.0065, "count": 0.5},
   {"series": "Iter 1 R² = 0.830", "x": 0.0074, "count": 0.2},
   {"series": "Iter 2 R² = 0.837", "x": -0.009, "count": 0.5},
   {"series": "Iter 2 R² = 0.837", "x": -0.008, "count": 2},
   {"series": "Iter 2 R² = 0.837", "x": -0.007, "count": 2},
   {"series": "Iter 2 R² = 0.837", "x": -0.006, "count": 2},
   {"series": "Iter 2 R² = 0.837", "x": -0.0052, "count": 6},
   {"series": "Iter 2 R² = 0.837", "x": -0.0046, "count": 19},
   {"series": "Iter 2 R² = 0.837", "x": -0.004, "count": 43},
   {"series": "Iter 2 R² = 0.837", "x": -0.0035, "count": 72},
   {"series": "Iter 2 R² = 0.837", "x": -0.003, "count": 108},
   {"series": "Iter 2 R² = 0.837", "x": -0.0026, "count": 134},
   {"series": "Iter 2 R² = 0.837", "x": -0.0022, "count": 155},
   {"series": "Iter 2 R² = 0.837", "x": -0.0018, "count": 176},
   {"series": "Iter 2 R² = 0.837", "x": -0.0015, "count": 186},
   {"series": "Iter 2 R² = 0.837", "x": -0.0013, "count": 189},
   {"series": "Iter 2 R² = 0.837", "x": -0.001, "count": 176},
   {"series": "Iter 2 R² = 0.837", "x": -0.0007, "count": 141},
   {"series": "Iter 2 R² = 0.837", "x": -0.0004, "count": 108},
   {"series": "Iter 2 R² = 0.837", "x": -0.0002, "count": 100},
   {"series": "Iter 2 R² = 0.837", "x": 0, "count": 110},
   {"series": "Iter 2 R² = 0.837", "x": 0.0002, "count": 150},
   {"series": "Iter 2 R² = 0.837", "x": 0.0005, "count": 202},
   {"series": "Iter 2 R² = 0.837", "x": 0.0008, "count": 225},
   {"series": "Iter 2 R² = 0.837", "x": 0.001, "count": 229},
   {"series": "Iter 2 R² = 0.837", "x": 0.0012, "count": 217},
   {"series": "Iter 2 R² = 0.837", "x": 0.0015, "count": 181},
   {"series": "Iter 2 R² = 0.837", "x": 0.0019, "count": 129},
   {"series": "Iter 2 R² = 0.837", "x": 0.0023, "count": 85},
   {"series": "Iter 2 R² = 0.837", "x": 0.0027, "count": 53},
   {"series": "Iter 2 R² = 0.837", "x": 0.0031, "count": 30},
   {"series": "Iter 2 R² = 0.837", "x": 0.0036, "count": 14},
   {"series": "Iter 2 R² = 0.837", "x": 0.0042, "count": 6},
   {"series": "Iter 2 R² = 0.837", "x": 0.005, "count": 4},
   {"series": "Iter 2 R² = 0.837", "x": 0.0056, "count": 5},
   {"series": "Iter 2 R² = 0.837", "x": 0.0062, "count": 3},
   {"series": "Iter 2 R² = 0.837", "x": 0.0068, "count": 1},
   {"series": "Iter 2 R² = 0.837", "x": 0.0074, "count": 0.3}
  ]
 },
 "columns": 2,
 "spacing": {"row": 24, "column": 8},
 "resolve": {"scale": {"x": "independent", "y": "independent", "fill": "independent", "stroke": "independent"}, "legend": {"fill": "independent", "stroke": "independent"}, "axis": {"x": "independent", "y": "independent"}},
 "concat": [
  {
   "width": 500, "height": 484,
   "resolve": {"axis": {"x": "independent", "y": "independent"}},
   "layer": [
    {
     "data": {"name": "hA"},
     "mark": {"type": "bar", "fillOpacity": 0.4, "stroke": "white", "strokeWidth": 0.6, "strokeOpacity": 0.6},
     "encoding": {
      "x": {"field": "x0", "type": "quantitative", "scale": {"domain": [-0.01029, 0.00894], "nice": false, "zero": false}, "axis": {"values": [-0.01, -0.0075, -0.005, -0.0025, 0, 0.0025, 0.005, 0.0075], "format": ".4f", "title": "rate of change", "titlePadding": 0}},
      "x2": {"field": "x1"},
      "y": {"field": "count", "type": "quantitative", "scale": {"domain": [0, 339], "nice": false}, "axis": {"values": [0, 50, 100, 150, 200, 250, 300], "title": "count", "titlePadding": 5, "labelPadding": 10}},
      "y2": {"datum": 0},
      "fill": {"field": "series", "type": "nominal", "scale": {"domain": ["1400 sites, R² = 0.852", "900\u00a0 sites, R² = 0.862", "450\u00a0 sites, R² = 0.868"], "range": ["#4682b4", "#ffa500", "#008000"]}, "legend": {"orient": "top-left", "offset": 5, "labelFontSize": 14.5, "symbolSize": 400, "symbolOffset": 5, "labelOffset": 23, "rowPadding": 7}}
     }
    },
    {
     "data": {"name": "kA"},
     "mark": {"type": "line", "interpolate": "monotone", "strokeWidth": 1.8},
     "encoding": {
      "x": {"field": "x", "type": "quantitative", "scale": {"domain": [-0.01029, 0.00894], "nice": false, "zero": false}, "axis": {"orient": "top", "labels": false, "title": ["Distribution of Rates for", "PCC in Preprocessing"], "titleFontSize": 33, "titleLineHeight": 35, "titlePadding": 3}},
      "y": {"field": "count", "type": "quantitative", "scale": {"domain": [0, 339], "nice": false}, "axis": {"orient": "right", "labels": false, "title": "A", "titleAngle": 0, "titleX": -540, "titleY": -30, "titleAlign": "left", "titleBaseline": "alphabetic", "titleFontSize": 24, "titleColor": "#111111"}},
      "stroke": {"field": "series", "type": "nominal", "scale": {"domain": ["1400 sites, R² = 0.852", "900\u00a0 sites, R² = 0.862", "450\u00a0 sites, R² = 0.868"], "range": ["#4682b4", "#ffa500", "#008000"]}, "legend": null}
     }
    }
   ]
  },
  {
   "width": 500, "height": 484,
   "resolve": {"axis": {"x": "independent", "y": "independent"}},
   "layer": [
    {
     "data": {"name": "hB"},
     "mark": {"type": "bar", "fillOpacity": 0.4, "stroke": "white", "strokeWidth": 0.6, "strokeOpacity": 0.6},
     "encoding": {
      "x": {"field": "x0", "type": "quantitative", "scale": {"domain": [-0.0103, 0.00889], "nice": false, "zero": false}, "axis": {"values": [-0.01, -0.0075, -0.005, -0.0025, 0, 0.0025, 0.005, 0.0075], "format": ".4f", "title": "rate of change", "titlePadding": 0}},
      "x2": {"field": "x1"},
      "y": {"field": "count", "type": "quantitative", "scale": {"domain": [0, 334.5], "nice": false}, "axis": {"values": [0, 50, 100, 150, 200, 250, 300], "title": "count", "titlePadding": 5, "labelPadding": 10}},
      "y2": {"datum": 0},
      "fill": {"field": "series", "type": "nominal", "scale": {"domain": ["Iter 1 R² = 0.867775", "Iter 2 R² = 0.867772"], "range": ["#4682b4", "#ffa500"]}, "legend": {"orient": "top-right", "offset": 8, "labelFontSize": 18.5, "symbolSize": 784, "symbolOffset": 7, "labelOffset": 25, "rowPadding": 4}}
     }
    },
    {
     "data": {"name": "kB"},
     "mark": {"type": "line", "interpolate": "monotone", "strokeWidth": 1.8},
     "encoding": {
      "x": {"field": "x", "type": "quantitative", "scale": {"domain": [-0.0103, 0.00889], "nice": false, "zero": false}, "axis": {"orient": "top", "labels": false, "title": ["Distribution of Rates for", "PCC in Model Refitting"], "titleFontSize": 33, "titleLineHeight": 35, "titlePadding": 3}},
      "y": {"field": "count", "type": "quantitative", "scale": {"domain": [0, 334.5], "nice": false}, "axis": {"orient": "right", "labels": false, "title": "B", "titleAngle": 0, "titleX": -525, "titleY": -30, "titleAlign": "left", "titleBaseline": "alphabetic", "titleFontSize": 24, "titleColor": "#111111"}},
      "stroke": {"field": "series", "type": "nominal", "scale": {"domain": ["Iter 1 R² = 0.867775", "Iter 2 R² = 0.867772"], "range": ["#4682b4", "#ffa500"]}, "legend": null}
     }
    }
   ]
  },
  {
   "width": 500, "height": 482,
   "resolve": {"axis": {"x": "independent", "y": "independent"}},
   "layer": [
    {
     "data": {"name": "hC"},
     "mark": {"type": "bar", "fillOpacity": 0.4, "stroke": "white", "strokeWidth": 0.6, "strokeOpacity": 0.6},
     "encoding": {
      "x": {"field": "x0", "type": "quantitative", "scale": {"domain": [-0.00938, 0.00812], "nice": false, "zero": false}, "axis": {"values": [-0.008, -0.006, -0.004, -0.002, 0, 0.002, 0.004, 0.006, 0.008], "format": ".3f", "title": "rate of change", "titlePadding": 0}},
      "x2": {"field": "x1"},
      "y": {"field": "count", "type": "quantitative", "scale": {"domain": [0, 378], "nice": false}, "axis": {"values": [0, 50, 100, 150, 200, 250, 300, 350], "title": "count", "titlePadding": 5, "labelPadding": 10}},
      "y2": {"datum": 0},
      "fill": {"field": "series", "type": "nominal", "scale": {"domain": ["1565 sites, R² = 0.830", "915\u00a0 sites, R² = 0.808", "465\u00a0 sites, R² = 0.793"], "range": ["#4682b4", "#ffa500", "#008000"]}, "legend": {"orient": "top-left", "offset": 9, "labelFontSize": 16.5, "symbolSize": 522, "symbolOffset": 5, "labelOffset": 24, "rowPadding": 7}}
     }
    },
    {
     "data": {"name": "kC"},
     "mark": {"type": "line", "interpolate": "monotone", "strokeWidth": 1.8},
     "encoding": {
      "x": {"field": "x", "type": "quantitative", "scale": {"domain": [-0.00938, 0.00812], "nice": false, "zero": false}, "axis": {"orient": "top", "labels": false, "title": ["Distribution of Rates for", "Randomized Ridge in Preprocessing"], "titleFontSize": 33, "titleLineHeight": 35, "titlePadding": 3}},
      "y": {"field": "count", "type": "quantitative", "scale": {"domain": [0, 378], "nice": false}, "axis": {"orient": "right", "labels": false, "title": "C", "titleAngle": 0, "titleX": -531, "titleY": -76, "titleAlign": "left", "titleBaseline": "alphabetic", "titleFontSize": 24, "titleColor": "#111111"}},
      "stroke": {"field": "series", "type": "nominal", "scale": {"domain": ["1565 sites, R² = 0.830", "915\u00a0 sites, R² = 0.808", "465\u00a0 sites, R² = 0.793"], "range": ["#4682b4", "#ffa500", "#008000"]}, "legend": null}
     }
    }
   ]
  },
  {
   "width": 500, "height": 482,
   "resolve": {"axis": {"x": "independent", "y": "independent"}},
   "layer": [
    {
     "data": {"name": "hD"},
     "mark": {"type": "bar", "fillOpacity": 0.4, "stroke": "white", "strokeWidth": 0.6, "strokeOpacity": 0.6},
     "encoding": {
      "x": {"field": "x0", "type": "quantitative", "scale": {"domain": [-0.00984, 0.00821], "nice": false, "zero": false}, "axis": {"values": [-0.0075, -0.005, -0.0025, 0, 0.0025, 0.005, 0.0075], "format": ".4f", "title": "rate of change", "titlePadding": 0}},
      "x2": {"field": "x1"},
      "y": {"field": "count", "type": "quantitative", "scale": {"domain": [0, 377], "nice": false}, "axis": {"values": [0, 50, 100, 150, 200, 250, 300, 350], "title": "count", "titlePadding": 5, "labelPadding": 10}},
      "y2": {"datum": 0},
      "fill": {"field": "series", "type": "nominal", "scale": {"domain": ["Iter 1 R² = 0.830", "Iter 2 R² = 0.837"], "range": ["#4682b4", "#ffa500"]}, "legend": {"orient": "top-right", "offset": 8, "labelFontSize": 18.5, "symbolSize": 661, "symbolOffset": 8, "labelOffset": 26, "rowPadding": 6}}
     }
    },
    {
     "data": {"name": "kD"},
     "mark": {"type": "line", "interpolate": "monotone", "strokeWidth": 1.8},
     "encoding": {
      "x": {"field": "x", "type": "quantitative", "scale": {"domain": [-0.00984, 0.00821], "nice": false, "zero": false}, "axis": {"orient": "top", "labels": false, "title": ["Distribution of Rates for", "Randomized Ridge in Model Refitting"], "titleFontSize": 33, "titleLineHeight": 35, "titlePadding": 3}},
      "y": {"field": "count", "type": "quantitative", "scale": {"domain": [0, 377], "nice": false}, "axis": {"orient": "right", "labels": false, "title": "D", "titleAngle": 0, "titleX": -526, "titleY": -76, "titleAlign": "left", "titleBaseline": "alphabetic", "titleFontSize": 24, "titleColor": "#111111"}},
      "stroke": {"field": "series", "type": "nominal", "scale": {"domain": ["Iter 1 R² = 0.830", "Iter 2 R² = 0.837"], "range": ["#4682b4", "#ffa500"]}, "legend": null}
     }
    }
   ]
  }
 ]
}
